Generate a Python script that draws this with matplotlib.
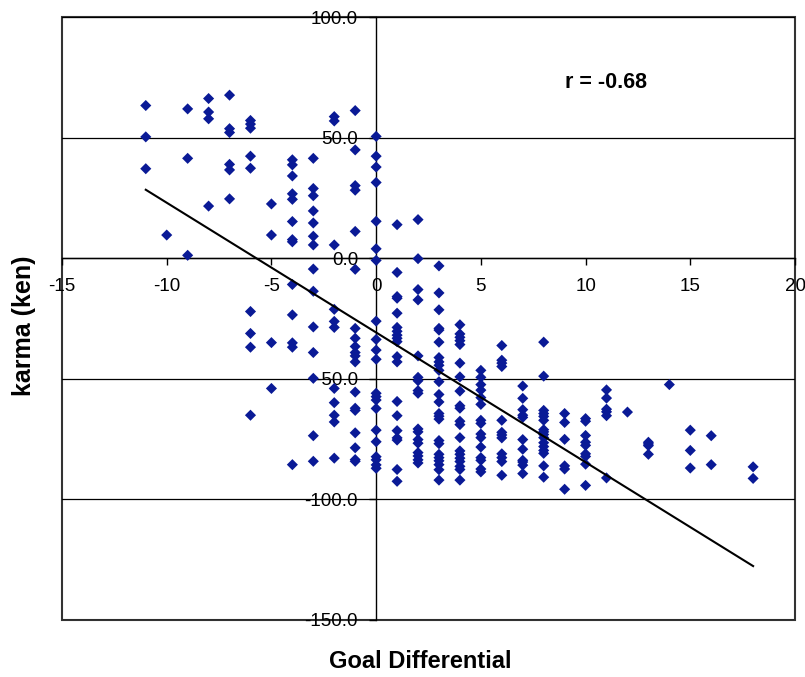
import matplotlib
matplotlib.use("Agg")
import matplotlib.pyplot as plt
import numpy as np

plt.rcParams['font.family'] = ['Liberation Sans', 'DejaVu Sans']

# Goal differential -> karma values (grouped by x)
karma_by_goal = {
    -11: [63.3, 50.3, 37.1],
    -10: [9.6],
    -9: [61.9, 41.4, 1.2],
    -8: [66.2, 60.6, 57.8, 21.6],
    -7: [67.6, 53.7, 52.1, 38.9, 36.6, 24.6],
    -6: [57.1, 55.6, 53.9, 42.3, 37.3, -22.1, -31.2, -36.9, -65.1],
    -5: [22.5, 9.6, -35.0, -54.0],
    -4: [40.8, 38.7, 34.1, 26.7, 24.4, 15.2, 7.7, 6.8, -10.9, -23.5, -35.1, -36.9, -85.6],
    -3: [41.4, 28.9, 25.9, 19.6, 14.6, 9.1, 5.5, -4.5, -13.7, -28.5, -39.1, -49.8, -73.6, -84.2],
    -2: [58.7, 56.9, 5.5, -21.2, -26.2, -28.7, -54.0, -59.9, -65.1, -67.9, -82.9],
    -1: [61.2, 44.9, 30.1, 28.2, 11.1, -4.6, -29.1, -33.2, -36.6, -39.1, -40.5, -43.0,
         -55.5, -62.2, -63.1, -72.4, -78.6, -83.5, -84.2],
    0: [50.5, 42.3, 37.8, 31.4, 15.3, 3.9, -0.9, -26.1, -33.7, -38.1, -41.9, -56.0, -57.4,
        -58.8, -62.3, -71.3, -76.1, -82.3, -83.6, -85.7, -87.1],
    1: [13.9, -5.9, -15.9, -16.6, -22.8, -28.7, -30.3, -31.9, -33.2, -34.6, -40.8, -43.0,
        -59.4, -65.3, -71.5, -74.5, -75.4, -87.6, -92.5],
    2: [16.0, -0.2, -13.0, -17.3, -40.5, -49.4, -50.8, -54.9, -56.0, -70.8, -72.0, -75.2,
        -76.7, -80.6, -82.0, -83.6, -84.9],
    3: [-3.2, -14.4, -21.4, -29.1, -29.8, -34.8, -41.2, -43.0, -44.4, -46.5, -51.2, -56.5,
        -59.6, -64.4, -65.5, -66.7, -75.6, -76.9, -81.3, -82.7, -84.0, -85.6, -87.7, -92.0],
    4: [-27.6, -31.4, -32.8, -34.2, -35.8, -43.5, -49.2, -55.1, -61.2, -62.2, -67.6, -69.0,
        -74.4, -79.9, -81.3, -82.9, -84.3, -86.3, -87.6, -92.0],
    5: [-46.5, -49.4, -52.4, -54.7, -57.8, -60.6, -67.2, -68.5, -72.9, -74.4, -78.3, -82.7,
        -83.8, -87.4, -88.6],
    6: [-36.2, -42.3, -43.5, -44.9, -67.2, -72.2, -73.3, -74.5, -81.1, -82.7, -84.3, -90.0],
    7: [-53.0, -58.1, -62.8, -65.1, -66.0, -75.2, -79.2, -83.8, -84.5, -85.8, -89.3],
    8: [-34.8, -48.9, -63.1, -64.4, -65.6, -67.2, -71.1, -72.0, -73.1, -74.4, -76.5, -78.1,
        -79.7, -80.9, -86.1, -90.8],
    9: [-64.4, -68.1, -75.1, -86.1, -87.4, -95.8],
    10: [-66.5, -67.6, -73.5, -76.3, -77.6, -81.1, -82.2, -85.4, -94.2],
    11: [-54.6, -58.0, -62.6, -63.7, -65.3, -91.1],
    12: [-63.8],
    13: [-76.3, -77.0, -77.7, -81.3],
    14: [-52.4],
    15: [-71.3, -79.7, -87.0],
    16: [-73.6, -85.6],
    18: [-86.5, -91.3],
}

goal_diff = [g for g, vals in karma_by_goal.items() for _ in vals]
karma = [v for vals in karma_by_goal.values() for v in vals]

# Linear trend line
trend_x = [-11, 18]
trend_slope = -5.38
trend_intercept = -30.8

x_ticks = [-15, -10, -5, 0, 5, 10, 15, 20]
y_ticks = [100, 50, 0, -50, -100, -150]
r_label = "r = -0.68"

fig = plt.figure(figsize=(8.05, 6.77), dpi=100)
ax = fig.add_axes([62/805, 57/677, 733/805, 603/677])

ax.set_xlim(-15, 20)
ax.set_ylim(-150, 100)

for yv in y_ticks:
    ax.axhline(yv, color='black', lw=0.9, zorder=1)

ax.scatter(goal_diff, karma, marker='D', s=32, color='#0a1a96', edgecolors='none', zorder=3)

tx = np.array(trend_x, dtype=float)
ax.plot(tx, trend_slope * tx + trend_intercept, color='black', lw=1.5, zorder=4)

# spines through origin
ax.spines['left'].set_position(('data', 0))
ax.spines['bottom'].set_position(('data', 0))
ax.spines['top'].set_visible(False)
ax.spines['right'].set_visible(False)
for s in ['left', 'bottom']:
    ax.spines[s].set_linewidth(1.0)
    ax.spines[s].set_color('black')
    ax.spines[s].set_zorder(2)

ax.patch.set_edgecolor('#333333')
ax.patch.set_linewidth(1.5)

ax.set_xticks(x_ticks)
ax.set_xticklabels([str(v) for v in x_ticks])
ax.set_yticks(y_ticks)
ax.set_yticklabels([f"{v:.1f}" for v in y_ticks])
ax.tick_params(axis='both', direction='out', length=5, width=1, labelsize=13.5)
ax.tick_params(axis='x', pad=9)
ax.tick_params(axis='y', pad=8)

ax.text(10.96, 70.4, r_label, fontsize=15.5, fontweight='bold', ha='center', va='baseline')

fig.text(420/805, 1 - 668/677, "Goal Differential", fontsize=17, fontweight='bold',
         ha='center', va='baseline')
fig.text(24/805, 1 - 326/677, "karma (ken)", fontsize=18, fontweight='bold',
         ha='center', va='center', rotation=90)

fig.savefig("out.png", dpi=100)
